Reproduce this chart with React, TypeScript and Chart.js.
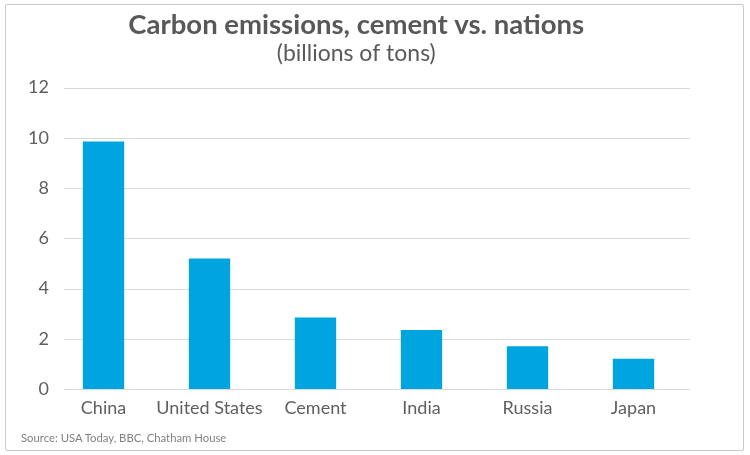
import React, { useEffect, useRef } from "react";
import { Chart, registerables } from "chart.js";

Chart.register(...registerables);

const categories = ["China", "United States", "Cement", "India", "Russia", "Japan"];
const emissions = [9.85, 5.2, 2.85, 2.35, 1.7, 1.2];
const yTicks = [0, 2, 4, 6, 8, 10, 12];
const titleText = "Carbon emissions, cement vs. nations";
const subtitleText = "(billions of tons)";
const sourceText = "Source: USA Today, BBC, Chatham House";

const gridPlugin = {
  id: "customGrid",
  beforeDatasetsDraw(chart: any) {
    const { ctx, chartArea, scales } = chart;
    const y = scales.y;
    ctx.save();
    ctx.strokeStyle = "#d9d9d9";
    ctx.lineWidth = 1;
    y.ticks.forEach((t: any) => {
      const py = Math.round(y.getPixelForValue(t.value)) + 0.5;
      ctx.beginPath();
      ctx.moveTo(chartArea.left + 13.5, py);
      ctx.lineTo(chartArea.right + 3.5, py);
      ctx.stroke();
    });
    ctx.restore();
  },
};

export default function App() {
  const ref = useRef<HTMLCanvasElement | null>(null);

  useEffect(() => {
    if (!ref.current) return;
    const chart = new Chart(ref.current, {
      type: "bar",
      data: {
        labels: categories,
        datasets: [
          {
            data: emissions,
            backgroundColor: "#00a5e0",
            borderWidth: 0,
            categoryPercentage: 1,
            barPercentage: 0.39,
          },
        ],
      },
      options: {
        animation: false,
        responsive: false,
        devicePixelRatio: 1,
        layout: { padding: { left: 26, right: 63.5, top: 0, bottom: 0 } },
        plugins: {
          legend: { display: false },
          tooltip: { enabled: false },
          title: {
            display: true,
            text: titleText,
            color: "#585858",
            font: { family: "Lato", size: 27.5, weight: "bold" },
            padding: { top: 9, bottom: 0 },
          },
          subtitle: {
            display: true,
            text: subtitleText,
            color: "#5a5a5a",
            font: { family: "Lato", size: 23, weight: "normal" },
            padding: { top: -2, bottom: 20 },
          },
        },
        scales: {
          x: {
            grid: { display: false, drawTicks: false },
            border: { display: false },
            ticks: {
              color: "#5f5f5f",
              font: { family: "Lato", size: 18 },
              padding: 8,
              maxRotation: 0,
              autoSkip: false,
            },
            afterFit(scale: any) {
              scale.height = 66;
            },
          },
          y: {
            min: 0,
            max: 12,
            afterBuildTicks(scale: any) {
              scale.ticks = yTicks.map((v) => ({ value: v }));
            },
            grid: { display: false, drawTicks: false },
            border: { display: false },
            ticks: {
              color: "#5f5f5f",
              font: { family: "Lato", size: 18 },
              padding: 1.5,
            },
            afterFit(scale: any) {
              scale.width = 24.5;
            },
          },
        },
      },
      plugins: [gridPlugin],
    });
    return () => chart.destroy();
  }, []);

  return (
    <div style={{ position: "absolute", left: 0, top: 0, width: 750, height: 455, background: "#fff" }}>
      <div
        style={{
          position: "absolute",
          left: 5,
          top: 4,
          width: 739,
          height: 447,
          boxSizing: "border-box",
          border: "1px solid #c9c9c9",
          borderRadius: 2,
        }}
      />
      <canvas ref={ref} width={750} height={455} style={{ position: "absolute", left: 0, top: 0, width: 750, height: 455 }} />
      <div
        style={{
          position: "absolute",
          left: 21,
          top: 431,
          fontFamily: "Lato",
          fontSize: 11.3,
          color: "#808080",
          whiteSpace: "nowrap",
        }}
      >
        {sourceText}
      </div>
    </div>
  );
}
